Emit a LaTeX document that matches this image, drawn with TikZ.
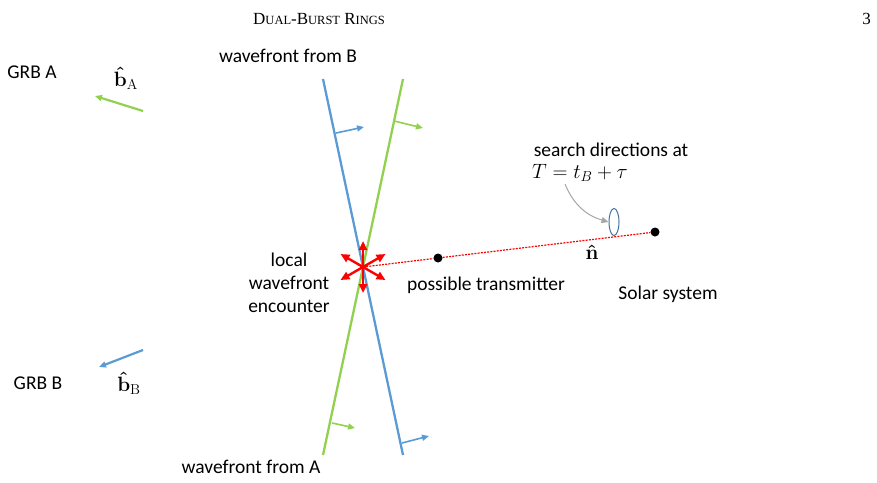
\documentclass[tikz,border=0pt]{standalone}
\usepackage{amsmath}
\usepackage[no-math]{fontspec}
\setmainfont{Carlito}
\newfontfamily\hdrfont{Liberation Serif}
\usetikzlibrary{arrows.meta,shapes.geometric}
\definecolor{wblue}{HTML}{5B9BD5}
\definecolor{wgreen}{HTML}{92D050}
\definecolor{eblue}{HTML}{41719C}
\definecolor{tgray}{HTML}{A6A6A6}
\begin{document}
\begin{tikzpicture}[x=1pt,y=-1pt,
  lbl/.style={inner sep=0pt, font=\fontsize{19.5}{23}\selectfont},
  mth/.style={inner sep=0pt, font=\fontsize{21}{25}\selectfont},
  front/.style={line width=2.3pt},
  smallarr/.style={line width=1.6pt, -{Triangle[length=7pt,width=6pt]}},
  redarr/.style={line width=2.4pt, red, -{Triangle[length=9pt,width=8pt]}},
  dot/.style={circle, fill=black, inner sep=0pt, minimum size=9pt}]
\useasboundingbox (0,0) rectangle (877,482);
% header
\node[inner sep=0pt, anchor=base west, font=\hdrfont\fontsize{17}{20}\selectfont] (hdr) at (253,24)
  {D{\fontsize{12.5}{16}\selectfont UAL}-B{\fontsize{12.5}{16}\selectfont URST} R{\fontsize{12.5}{16}\selectfont INGS}};
\node[inner sep=0pt, anchor=base east, font=\hdrfont\fontsize{17}{20}\selectfont] (pg) at (871,24) {3};
% wavefront lines
\coordinate (bt) at (323,79);
\coordinate (bb) at (403,455);
\coordinate (gt) at (403,79);
\coordinate (gb) at (323,455);
\coordinate (cross) at (363,267);
\draw[front, wblue] (bt) -- (bb);
\draw[front, wgreen] (gt) -- (gb);
% normal arrows on fronts
\coordinate (ba1) at (336,133); \coordinate (ba1e) at (364,127);
\coordinate (ga1) at (394,121); \coordinate (ga1e) at (423,128);
\coordinate (ga2) at (332,423); \coordinate (ga2e) at (355,428);
\coordinate (ba2) at (402,443); \coordinate (ba2e) at (429,436);
\draw[smallarr, wblue] (ba1) -- (ba1e);
\draw[smallarr, wgreen] (ga1) -- (ga1e);
\draw[smallarr, wgreen] (ga2) -- (ga2e);
\draw[smallarr, wblue] (ba2) -- (ba2e);
% GRB direction arrows
\coordinate (aS) at (143,111); \coordinate (aE) at (95,96);
\coordinate (bS) at (143,350); \coordinate (bE) at (99,367);
\draw[smallarr, wgreen, line width=2.2pt] (aS) -- (aE);
\draw[smallarr, wblue, line width=2.2pt] (bS) -- (bE);
% dotted line and dots
\node[dot] (tx) at (438,258) {};
\node[dot] (sun) at (655,232) {};
\draw[red, line width=1.2pt, dash pattern=on 2pt off 1.2pt] (cross) -- (tx);
\draw[red, line width=1.2pt, dash pattern=on 2pt off 1.2pt] (tx) -- (sun);
% red star
\foreach \a in {90,270,30,150,210,330}{
  \draw[redarr] (cross) -- ++(\a:26);
}
% search ellipse
\node[draw=eblue, line width=1pt, ellipse, minimum width=10pt, minimum height=27pt, inner sep=0pt] (ell) at (614,222) {};
% labels
\node[lbl] (grba) at (32,72) {GRB A};
\node[lbl] (grbb) at (38,383) {GRB B};
\node[mth] (bA) at (126,78) {$\boldsymbol{\hat{\mathbf{b}}}_{\mathrm{A}}$};
\node[mth] (bB) at (129,383) {$\boldsymbol{\hat{\mathbf{b}}}_{\mathrm{B}}$};
\node[lbl] (wfB) at (288,56) {wavefront from B};
\node[lbl] (wfA) at (251,467) {wavefront from A};
\node[lbl, align=center] (enc) at (289,283) {local\\wavefront\\encounter};
\node[lbl] (ptx) at (486,285) {possible transmitter};
\node[lbl] (sol) at (668,294) {Solar system};
\node[lbl] (sd) at (611,150) {search directions at};
\node[mth] (Tf) at (580,173) {$T = t_B + \tau$};
\node[mth] (nh) at (592,252) {$\boldsymbol{\hat{\mathbf{n}}}$};
% grey pointer
\coordinate (gp) at (565,184);
\draw[tgray, line width=1pt, -{Triangle[length=7pt,width=6pt]}] (gp) .. controls (574,206) and (588,216) .. (ell.west);
\end{tikzpicture}
\end{document}
